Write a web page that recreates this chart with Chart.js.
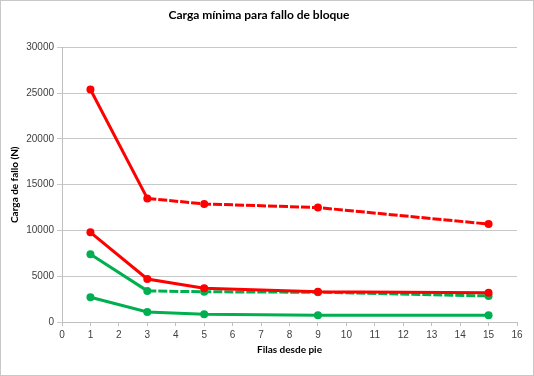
<!DOCTYPE html>
<html>
<head>
<meta charset="utf-8">
<script src="https://cdn.jsdelivr.net/npm/chart.js@4"></script>
<style>
  body { margin: 0; background: #fff; }
  #wrap {
    width: 534px;
    height: 376px;
    box-sizing: border-box;
    border: 1px solid #c8c8c8;
    background: #fff;
  }
</style>
</head>
<body>
<div id="wrap"><canvas id="chart" width="532" height="374"></canvas></div>
<script>
// rows counted from the foot
const filas = [1, 3, 5, 9, 15];
const rojoAlto = [25400, 13500, 12900, 12500, 10700];
const rojoBajo = [9800, 4700, 3700, 3300, 3200];
const verdeAlto = [7400, 3400, 3300, 3250, 2850];
const verdeBajo = [2700, 1100, 850, 750, 750];

const RED = "#ff0000";
const GREEN = "#00b050";

function puntos(values) {
  return filas.map((x, i) => ({ x: x, y: values[i] }));
}

// first segment solid, the rest dashed
const dashAfterFirst = (ctx) => (ctx.p0DataIndex === 0 ? [] : [9, 2]);

function serie(values, color, dashed) {
  const ds = {
    data: puntos(values),
    borderColor: color,
    backgroundColor: color,
    borderWidth: 3,
    pointRadius: 4,
    pointHoverRadius: 4,
    pointBorderWidth: 0,
    tension: 0,
  };
  if (dashed) ds.segment = { borderDash: dashAfterFirst };
  return ds;
}

const tickFont = { family: "Liberation Sans", size: 10 };
const titleFont = { family: "Lato", size: 10, weight: "bold" };

new Chart(document.getElementById("chart").getContext("2d"), {
  type: "line",
  data: {
    datasets: [
      serie(rojoAlto, RED, true),
      serie(rojoBajo, RED, false),
      serie(verdeAlto, GREEN, true),
      serie(verdeBajo, GREEN, false),
    ],
  },
  options: {
    responsive: false,
    animation: false,
    layout: { padding: { left: 0, right: 16, top: 0, bottom: 0 } },
    plugins: {
      legend: { display: false },
      tooltip: { enabled: false },
      title: {
        display: true,
        text: "Carga mínima para fallo de bloque",
        color: "#000",
        font: { family: "Lato", size: 12, weight: "bold" },
        padding: { top: 7, bottom: 25 },
      },
    },
    scales: {
      x: {
        type: "linear",
        min: 0,
        max: 16,
        ticks: { stepSize: 1, color: "#404040", font: tickFont, padding: 3, maxRotation: 0 },
        grid: { drawOnChartArea: false, drawTicks: true, tickLength: 4, color: "#bfbfbf" },
        border: { color: "#bfbfbf" },
        title: {
          display: true,
          text: "Filas desde pie",
          color: "#000",
          font: titleFont,
          padding: { top: 0, bottom: 19 },
        },
        afterFit: (axis) => { axis.height = 53; },
      },
      y: {
        min: 0,
        max: 30000,
        ticks: {
          stepSize: 5000,
          color: "#404040",
          font: tickFont,
          padding: 3,
          callback: (v) => String(v),
        },
        grid: { color: "#c8c8c8", drawTicks: true, tickLength: 5 },
        border: { color: "#bfbfbf" },
        title: {
          display: true,
          text: "Carga de fallo (N)",
          color: "#000",
          font: titleFont,
          padding: { top: 8, bottom: 0 },
        },
        afterFit: (axis) => { axis.width = 61; },
      },
    },
  },
});
</script>
</body>
</html>
